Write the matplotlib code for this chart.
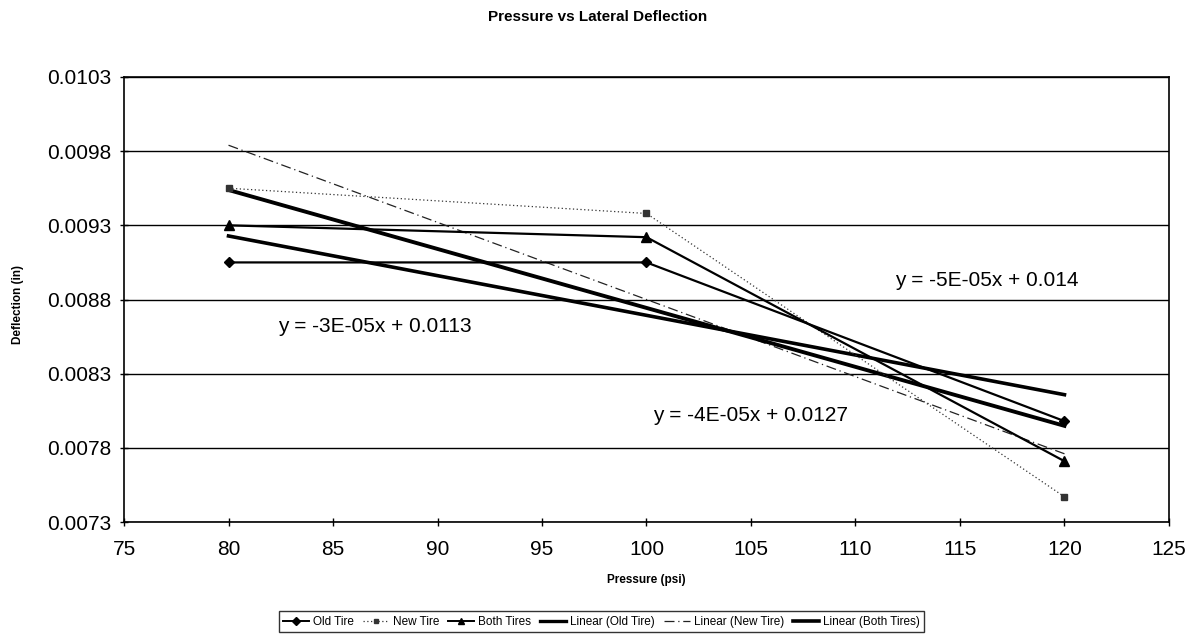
import numpy as np
import matplotlib
matplotlib.use("Agg")
import matplotlib.pyplot as plt
from matplotlib.lines import Line2D

plt.rcParams['font.family'] = ['Liberation Sans', 'DejaVu Sans']

# Tire pressure (psi) and measured lateral deflection (in)
pressure = [80, 100, 120]
old_tire = [0.00905, 0.00905, 0.00798]
new_tire = [0.00955, 0.00938, 0.00747]
both_tires = [0.00930, 0.00922, 0.00771]

x_ticks = [75, 80, 85, 90, 95, 100, 105, 110, 115, 120, 125]
y_ticks = [0.0073, 0.0078, 0.0083, 0.0088, 0.0093, 0.0098, 0.0103]

# Trendline equation labels: text, x, y (data coordinates)
eq_labels = [
    ("y = -3E-05x + 0.0113", 87.0, 0.00862),
    ("y = -5E-05x + 0.014", 116.3, 0.00893),
    ("y = -4E-05x + 0.0127", 105.0, 0.00802),
]

fig = plt.figure(figsize=(12.03, 6.41), dpi=100)
ax = fig.add_axes([0.1031, 0.1856, 0.8686, 0.6943])

x = np.array(pressure, dtype=float)

ax.plot(x, old_tire, color='black', lw=1.6, marker='D', ms=5.5, zorder=4)
ax.plot(x, new_tire, color='#333333', lw=0.9, ls=(0, (1, 2)), marker='s',
        ms=4, zorder=4)
ax.plot(x, both_tires, color='black', lw=1.6, marker='^', ms=7, zorder=4)

# Least-squares trendlines over the measured range
xs = np.array([pressure[0], pressure[-1]], dtype=float)
for series, kw in [
    (old_tire, dict(color='black', lw=2.6, ls='-')),
    (new_tire, dict(color='#222222', lw=0.9, ls=(0, (8, 3, 1, 3)))),
    (both_tires, dict(color='black', lw=2.8, ls='-')),
]:
    m, b = np.polyfit(x, series, 1)
    ax.plot(xs, m * xs + b, zorder=3, **kw)

for txt, tx, ty in eq_labels:
    ax.text(tx, ty, txt, fontsize=15, ha='center', va='center', zorder=5)

ax.set_xlim(75, 125)
ax.set_ylim(0.0073, 0.0103)
ax.set_xticks(x_ticks)
ax.set_yticks(y_ticks)
ax.set_yticklabels([f"{v:.4f}" for v in y_ticks])
ax.tick_params(axis='both', labelsize=15, direction='inout', length=6,
               width=1, color='black')
ax.tick_params(axis='x', pad=10)
ax.tick_params(axis='y', pad=6)
ax.grid(axis='y', color='black', lw=1.0)
ax.set_axisbelow(True)
for s in ax.spines.values():
    s.set_color('black')
    s.set_linewidth(1.2)

fig.text(0.497, 0.974, "Pressure vs Lateral Deflection", fontsize=11,
         fontweight='bold', ha='center', va='center')
fig.text(0.537, 0.095, "Pressure (psi)", fontsize=8.5, fontweight='bold',
         ha='center', va='center')
fig.text(0.015, 0.525, "Deflection (in)", fontsize=8.5, fontweight='bold',
         ha='center', va='center', rotation=90)

handles = [
    Line2D([], [], color='black', lw=1.4, marker='D', ms=4),
    Line2D([], [], color='#333333', lw=0.9, ls=(0, (1, 2)), marker='s', ms=3),
    Line2D([], [], color='black', lw=1.4, marker='^', ms=5),
    Line2D([], [], color='black', lw=2.4),
    Line2D([], [], color='#222222', lw=0.9, ls=(0, (8, 3, 1, 3))),
    Line2D([], [], color='black', lw=2.6),
]
names = ["Old Tire", "New Tire", "Both Tires", "Linear (Old Tire)",
         "Linear (New Tire)", "Linear (Both Tires)"]
leg = fig.legend(handles, names, loc='center', bbox_to_anchor=(0.5, 0.030),
                 ncol=6, fontsize=8.5, frameon=True, fancybox=False,
                 edgecolor='black', handlelength=2.2, handletextpad=0.3,
                 columnspacing=0.8, borderpad=0.4, borderaxespad=0)
leg.get_frame().set_linewidth(1.0)

fig.savefig("out.png", dpi=100, facecolor='white')
